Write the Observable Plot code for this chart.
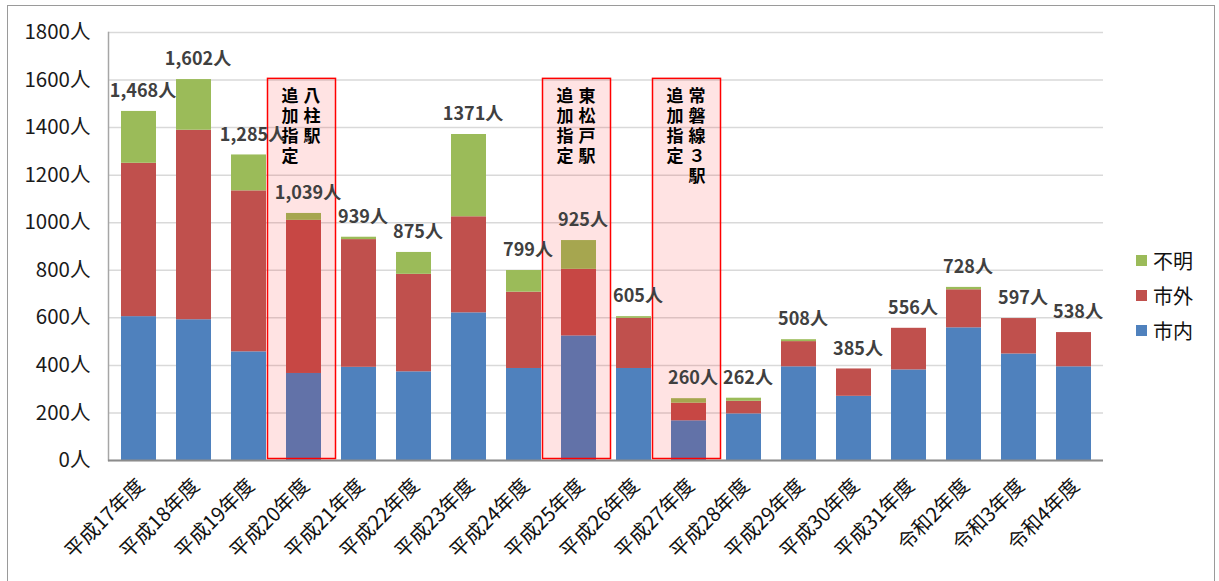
<!DOCTYPE html>
<html>
<head>
<meta charset="utf-8">
<script src="https://cdn.jsdelivr.net/npm/d3@7"></script>
<script src="https://cdn.jsdelivr.net/npm/@observablehq/plot@0.6"></script>
<style>
  html, body { margin: 0; padding: 0; background: #fff; }
  #wrap { position: relative; width: 1219px; height: 581px; overflow: hidden; font-family: "Noto Sans CJK JP", sans-serif; }
  #border { position: absolute; left: 7px; top: 5px; width: 1208px; height: 620px; border: 1.5px solid #9a9a9a; box-sizing: border-box; }
  #chart { position: absolute; left: 0; top: 0; }
  #legend { position: absolute; left: 1136px; top: 243px; }
  .item { display: flex; align-items: center; height: 35px; font-size: 20px; color: #111; }
  .sw { width: 11px; height: 11px; margin-right: 6px; }
</style>
</head>
<body>
<div id="wrap">
  <div id="border"></div>
  <div id="chart"></div>
  <div id="legend"></div>
</div>
<script>
// ---- data ----
const categories = ["平成17年度","平成18年度","平成19年度","平成20年度","平成21年度","平成22年度","平成23年度","平成24年度","平成25年度","平成26年度","平成27年度","平成28年度","平成29年度","平成30年度","平成31年度","令和2年度","令和3年度","令和4年度"];
const shinai = [605,592,457,366,392,373,621,387,524,387,167,196,394,270,381,558,448,394];
const shigai = [645,797,677,644,537,410,404,321,280,211,74,53,106,115,175,160,149,144];
const fumei  = [218,213,151,29,10,92,346,91,121,7,19,13,8,0,0,10,0,0];
const totalLabels = ["1,468人","1,602人","1,285人","1,039人","939人","875人","1371人","799人","925人","605人","260人","262人","508人","385人","556人","728人","597人","538人"];
const seriesNames = ["市内","市外","不明"];
const seriesColors = ["#4f81bd","#c0504d","#9bbb59"];
const yTicks = [0,200,400,600,800,1000,1200,1400,1600,1800];
const annotCategories = ["平成20年度","平成25年度","平成27年度"];
const annotStations = ["八柱駅","東松戸駅","常磐線３駅"];
const annotText = "追加指定";

// ---- derived tables ----
const seriesValues = [shinai, shigai, fumei];
const long = [];
seriesNames.forEach((s, si) => categories.forEach((c, i) => long.push({category: c, series: s, value: seriesValues[si][i]})));
const totals = categories.map((c, i) => ({category: c, total: shinai[i] + shigai[i] + fumei[i], label: totalLabels[i]}));
const annots = annotCategories.map((c, i) => ({category: c, station: annotStations[i], text: annotText}));
const BOX_TOP = 1605;

const W = 1219, H = 578;
const chart = Plot.plot({
  width: W,
  height: H,
  marginLeft: 108,
  marginRight: 116,
  marginTop: 32,
  marginBottom: H - 460,
  style: {fontFamily: "'Noto Sans CJK JP', sans-serif", background: "transparent"},
  x: {domain: categories, paddingInner: 0.37, paddingOuter: 0.185, label: null},
  y: {domain: [0, 1800], label: null},
  color: {domain: seriesNames, range: seriesColors},
  marks: [
    Plot.gridY(yTicks, {stroke: "#d9d9d9", strokeOpacity: 1, strokeWidth: 1.5}),
    Plot.barY(long, {x: "category", y: "value", fill: "series", order: seriesNames}),
    Plot.frame({anchor: "left", stroke: "#a6a6a6", strokeWidth: 1.5}),
    Plot.ruleY([0], {stroke: "#8c8c8c", strokeWidth: 2}),
    Plot.barY(annots, {x: "category", y1: 0, y2: () => BOX_TOP, insetLeft: -16.5, insetRight: -16.5, insetBottom: 1.5, dx: -2,
      fill: "#ff0000", fillOpacity: 0.11, stroke: "#ff0000", strokeWidth: 1.5}),
    Plot.text(totals, {x: "category", y: "total", text: "label", dy: -20, dx: 4, fontSize: 18, fontWeight: "bold", fill: "#404040"}),
    Plot.text(annots, {x: "category", y: () => BOX_TOP, text: d => d.text.split("").join("\n"), lineAnchor: "top", dx: -14, dy: 9, lineHeight: 1.18, fontSize: 17, fontWeight: "bold", fill: "#000"}),
    Plot.text(annots, {x: "category", y: () => BOX_TOP, text: d => d.station.split("").join("\n"), lineAnchor: "top", dx: 8, dy: 9, lineHeight: 1.18, fontSize: 17, fontWeight: "bold", fill: "#000"}),
    Plot.axisY(yTicks, {tickSize: 0, tickPadding: 18, tickFormat: d => `${d}人`, fontSize: 20.5, color: "#1a1a1a", label: null}),
    Plot.axisX({tickSize: 0, tickRotate: -45, tickPadding: 22, fontSize: 20, color: "#111", dx: 2, label: null})
  ]
});
document.getElementById("chart").appendChild(chart);

// legend (top to bottom: 不明, 市外, 市内)
const legend = document.getElementById("legend");
seriesNames.slice().reverse().forEach(name => {
  const i = seriesNames.indexOf(name);
  const item = document.createElement("div");
  item.className = "item";
  const sw = document.createElement("div");
  sw.className = "sw";
  sw.style.background = seriesColors[i];
  const t = document.createElement("span");
  t.textContent = name;
  item.appendChild(sw); item.appendChild(t);
  legend.appendChild(item);
});
</script>
</body>
</html>
